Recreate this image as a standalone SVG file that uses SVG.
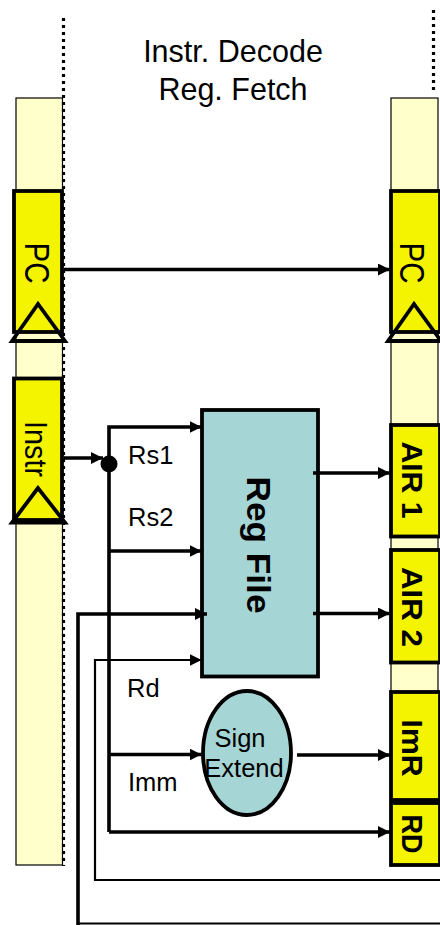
<svg xmlns="http://www.w3.org/2000/svg" width="440" height="925" viewBox="0 0 440 925">
<defs>
<marker id="ah" markerUnits="userSpaceOnUse" markerWidth="13" markerHeight="12" refX="12" refY="6" orient="auto">
<path d="M0,0 L12,6 L0,12 z" fill="#000"/>
</marker>
<style>
.bar{fill:#FFFFCC;stroke:#000;stroke-width:1.2}
.dot{fill:none;stroke:#000;stroke-width:3.2;stroke-dasharray:3 4}
.reg{fill:#F4F400;stroke:#000;stroke-width:3.8}
.clk{fill:none;stroke:#000;stroke-width:3.8;stroke-linejoin:miter}
.teal{fill:#A6D5D5;stroke:#000;stroke-width:3.8}
.w{fill:none;stroke:#000;stroke-width:3.6}
.t{fill:none;stroke:#000;stroke-width:2.2}
.a{marker-end:url(#ah)}
.txt{font-family:"Liberation Sans",Arial,sans-serif;fill:#000}
.b{font-weight:bold}
</style>
</defs>
<rect width="440" height="925" fill="#fff"/>

<g id="title">
<text class="txt" x="233" y="62" font-size="30.5" text-anchor="middle">Instr. Decode</text>
<text class="txt" x="233" y="100" font-size="30.5" text-anchor="middle">Reg. Fetch</text>
</g>

<g id="left-stage">
<rect class="bar" x="16" y="98" width="46.5" height="767"/>
<line class="dot" x1="63.5" y1="18" x2="63.5" y2="866"/>
</g>
<g id="right-stage">
<rect class="bar" x="391" y="98" width="47" height="767"/>
<line class="dot" x1="433.5" y1="10" x2="433.5" y2="94"/>
</g>

<g id="pc-left">
<rect class="reg" x="14" y="191" width="48" height="141"/>
<text class="txt" x="25" y="263" font-size="35" text-anchor="middle" textLength="41" lengthAdjust="spacingAndGlyphs" transform="rotate(90 25 263)">PC</text>
<path class="clk" d="M38,304 L12,341 L65,341 z"/>
</g>

<g id="pc-right">
<rect class="reg" x="391" y="191" width="49" height="141"/>
<text class="txt" x="400" y="263" font-size="35" text-anchor="middle" textLength="41" lengthAdjust="spacingAndGlyphs" transform="rotate(90 400 263)">PC</text>
<path class="clk" d="M414,304 L388,341 L441,341 z"/>
</g>

<g id="instr">
<rect class="reg" x="14" y="378.5" width="48" height="141.5"/>
<text class="txt" x="25" y="449" font-size="32" text-anchor="middle" textLength="56" lengthAdjust="spacingAndGlyphs" transform="rotate(90 25 449)">Instr</text>
<path class="clk" d="M38,488 L12,522.5 L65,522.5 z"/>
</g>

<g id="regfile">
<rect class="teal" x="202" y="410" width="116" height="266.5"/>
<text class="txt b" x="247" y="545" font-size="33" text-anchor="middle" textLength="137" lengthAdjust="spacingAndGlyphs" transform="rotate(90 247 545)">Reg File</text>
</g>

<g id="signext">
<ellipse class="teal" cx="247" cy="753" rx="44" ry="62"/>
<text class="txt" x="240" y="747" font-size="25.5" text-anchor="middle">Sign</text>
<text class="txt" x="244" y="777" font-size="25.5" text-anchor="middle">Extend</text>
</g>

<g id="air1">
<rect class="reg" x="391" y="425" width="49" height="111.5"/>
<text class="txt b" x="402" y="480" font-size="30" text-anchor="middle" textLength="77" lengthAdjust="spacingAndGlyphs" transform="rotate(90 402 480)">AIR 1</text>
</g>
<g id="air2">
<rect class="reg" x="391" y="550" width="49" height="112.5"/>
<text class="txt b" x="402" y="607" font-size="30" text-anchor="middle" textLength="80" lengthAdjust="spacingAndGlyphs" transform="rotate(90 402 607)">AIR 2</text>
</g>
<g id="imr">
<rect class="reg" x="391" y="692" width="49" height="108"/>
<text class="txt b" x="402" y="748" font-size="30" text-anchor="middle" textLength="57" lengthAdjust="spacingAndGlyphs" transform="rotate(90 402 748)">ImR</text>
</g>
<g id="rd">
<rect class="reg" x="391" y="803" width="49" height="62"/>
<text class="txt b" x="402" y="834" font-size="30" text-anchor="middle" textLength="39" lengthAdjust="spacingAndGlyphs" transform="rotate(90 402 834)">RD</text>
</g>

<g id="labels">
<text class="txt" x="128" y="464" font-size="25.5">Rs1</text>
<text class="txt" x="128" y="526" font-size="25.5">Rs2</text>
<text class="txt" x="127" y="697" font-size="25.5">Rd</text>
<text class="txt" x="128" y="791" font-size="25.5">Imm</text>
</g>

<g id="connectors">
<line class="w a" x1="64" y1="269.5" x2="390" y2="269.5"/>
<line class="w a" x1="64" y1="458" x2="103" y2="458"/>
<circle cx="109" cy="464" r="8.5" fill="#000"/>
<polyline class="w a" points="109,832 109,427 201.5,427"/>
<line class="w a" x1="109" y1="551" x2="201.5" y2="551"/>
<line class="w a" x1="109" y1="754.5" x2="201.5" y2="754.5"/>
<line class="w a" x1="109" y1="832" x2="390" y2="832"/>
<line class="w a" x1="313" y1="473" x2="390" y2="473"/>
<line class="w a" x1="313" y1="613.5" x2="390" y2="613.5"/>
<line class="w a" x1="297" y1="755" x2="390" y2="755"/>
<polyline class="w a" points="78,925 78,614 207,614"/>
<line class="t" x1="78" y1="923.5" x2="440" y2="923.5"/>
<polyline class="t a" points="440,880 95,880 95,660 201.5,660"/>
</g>
</svg>
